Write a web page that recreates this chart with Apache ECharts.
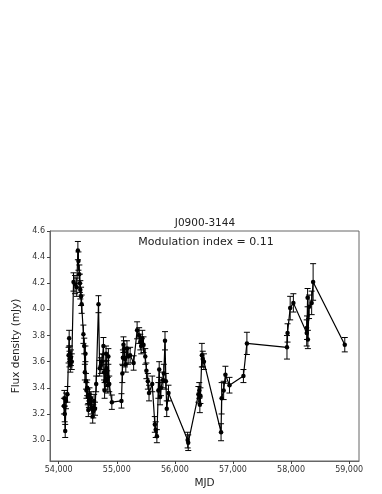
<!DOCTYPE html>
<html><head><meta charset="utf-8">
<script src="https://cdn.jsdelivr.net/npm/echarts@6/dist/echarts.min.js"></script>
<style>html,body{margin:0;padding:0;background:#fff}#c{width:382px;height:494px}</style>
</head><body><div id="c"></div>
<script>
const mjd = [54090,54097,54103,54112,54125,54150,54170,54180,54186,54193,54200,54210,54225,54255,54280,54310,54330,54340,54355,54365,54372,54385,54395,54425,54440,54450,54460,54470,54478,54490,54500,54510,54520,54530,54545,54555,54570,54585,54595,54610,54625,54645,54685,54705,54725,54745,54770,54780,54790,54800,54815,54825,54835,54845,54855,54870,54915,55080,55095,55105,55115,55125,55140,55155,55175,55195,55230,55290,55350,55385,55405,55420,55440,55460,55490,55510,55535,55555,55610,55655,55670,55690,55715,55730,55745,55760,55795,55810,55830,55845,55860,55890,56220,56230,56405,56420,56430,56440,56465,56480,56500,56795,56805,56840,56870,56940,57180,57240,57930,57940,57985,58040,58270,58275,58285,58290,58310,58355,58380,58925];
const flux = [3.26,3.32,3.20,3.07,3.30,3.35,3.65,3.78,3.62,3.66,3.58,3.63,3.60,4.21,4.19,4.17,4.45,4.37,4.27,4.20,4.15,4.10,4.04,3.81,3.72,3.52,3.66,3.45,3.38,3.40,3.33,3.23,3.30,3.35,3.28,3.32,3.25,3.18,3.22,3.30,3.24,3.43,4.04,3.55,3.57,3.60,3.72,3.52,3.38,3.45,3.66,3.55,3.47,3.42,3.64,3.43,3.29,3.30,3.51,3.63,3.73,3.70,3.62,3.58,3.70,3.64,3.65,3.59,3.84,3.80,3.75,3.72,3.78,3.73,3.64,3.53,3.45,3.36,3.43,3.12,3.08,3.03,3.38,3.54,3.33,3.40,3.46,3.51,3.76,3.45,3.24,3.36,3.00,2.98,3.35,3.38,3.27,3.34,3.65,3.62,3.60,3.06,3.32,3.38,3.50,3.42,3.49,3.74,3.71,3.82,4.01,4.05,3.82,3.86,4.09,3.77,4.02,4.05,4.21,3.73];
const err = [0.06,0.06,0.06,0.05,0.06,0.06,0.06,0.06,0.06,0.06,0.06,0.06,0.06,0.07,0.07,0.07,0.07,0.07,0.07,0.07,0.07,0.07,0.07,0.07,0.06,0.06,0.06,0.06,0.06,0.06,0.06,0.05,0.05,0.05,0.05,0.05,0.05,0.05,0.05,0.05,0.05,0.06,0.065,0.06,0.06,0.06,0.065,0.06,0.06,0.06,0.06,0.06,0.06,0.06,0.06,0.06,0.055,0.055,0.07,0.06,0.06,0.06,0.06,0.06,0.06,0.06,0.06,0.055,0.065,0.06,0.06,0.06,0.06,0.06,0.06,0.06,0.06,0.06,0.06,0.06,0.06,0.05,0.06,0.06,0.06,0.06,0.06,0.07,0.07,0.06,0.06,0.06,0.06,0.06,0.06,0.06,0.06,0.06,0.09,0.06,0.06,0.065,0.12,0.07,0.065,0.06,0.05,0.085,0.09,0.07,0.09,0.07,0.1,0.09,0.07,0.07,0.09,0.09,0.14,0.055];
const xTicks = [54000,55000,56000,57000,58000,59000];
const yTicks = [3.0,3.2,3.4,3.6,3.8,4.0,4.2,4.4,4.6];
const titleText = 'J0900-3144';
const modText = 'Modulation index = 0.11';

const chart = echarts.init(document.getElementById('c'), null, {renderer:'canvas'});
const pts = mjd.map((m,i)=>[m, flux[i]]);
const ebars = mjd.map((m,i)=>[m, flux[i]-err[i], flux[i]+err[i]]);
const font = 'DejaVu Sans';
chart.setOption({
  animation:false,
  backgroundColor:'#fff',
  graphic:[
    {type:'text', x:205, y:223, style:{text:titleText, align:'center', verticalAlign:'middle', font:'10.5px "DejaVu Sans"', fill:'#222'}},
    {type:'text', x:206, y:242, style:{text:modText, align:'center', verticalAlign:'middle', font:'11px "DejaVu Sans"', fill:'#222'}}
  ],
  grid:{left:50, right:23, top:231, bottom:33, show:true, borderColor:'#666', borderWidth:1},
  xAxis:{type:'value', min:53850, max:59170, name:'MJD', nameLocation:'middle', nameGap:17,
    nameTextStyle:{fontFamily:font,fontSize:10.5,color:'#222'},
    axisLine:{show:true,lineStyle:{color:'#666'}}, splitLine:{show:false},
    axisTick:{show:true, inside:false, length:3, customValues:xTicks, lineStyle:{color:'#444'}},
    axisLabel:{customValues:xTicks, fontFamily:font, fontSize:8, color:'#333', margin:5}},
  yAxis:{type:'value', min:2.84, max:4.6, name:'Flux density (mJy)', nameLocation:'middle', nameGap:24,
    nameTextStyle:{fontFamily:font,fontSize:10.5,color:'#222'},
    axisLine:{show:true,lineStyle:{color:'#666'}}, splitLine:{show:false},
    axisTick:{show:true, inside:false, length:3, customValues:yTicks, lineStyle:{color:'#444'}},
    axisLabel:{customValues:yTicks, fontFamily:font, fontSize:8, color:'#333', margin:5,
      formatter:v=>v.toFixed(1)}},
  series:[
    {type:'custom', data:ebars, z:2, clip:true,
      renderItem:function(params, api){
        const x = api.value(0);
        const lo = api.coord([x, api.value(1)]);
        const hi = api.coord([x, api.value(2)]);
        const cw = 3;
        const st = {stroke:'#000', lineWidth:1};
        return {type:'group', children:[
          {type:'line', shape:{x1:lo[0],y1:lo[1],x2:hi[0],y2:hi[1]}, style:st},
          {type:'line', shape:{x1:lo[0]-cw,y1:lo[1],x2:lo[0]+cw,y2:lo[1]}, style:st},
          {type:'line', shape:{x1:hi[0]-cw,y1:hi[1],x2:hi[0]+cw,y2:hi[1]}, style:st}
        ]};
      }},
    {type:'line', data:pts, z:3, symbol:'circle', symbolSize:4.5,
      lineStyle:{color:'#000', width:1.2}, itemStyle:{color:'#000'}}
  ]
});
</script></body></html>
